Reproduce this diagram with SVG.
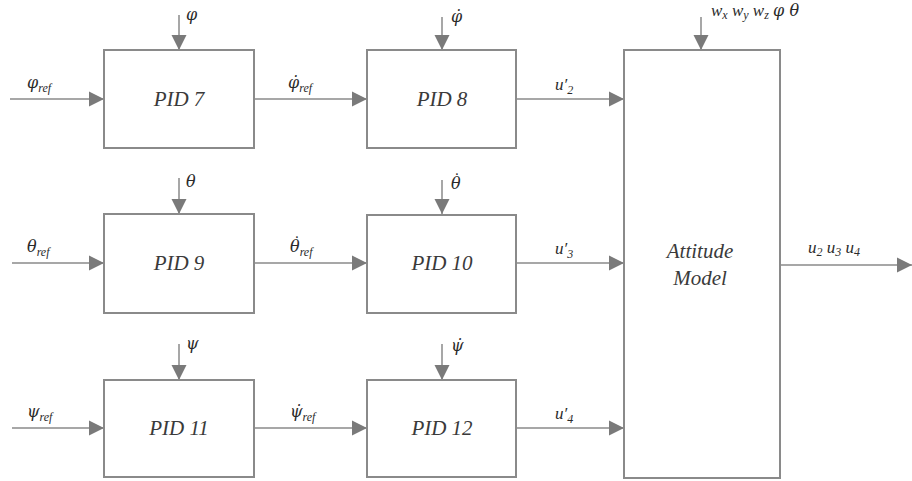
<svg xmlns="http://www.w3.org/2000/svg" width="912" height="481" viewBox="0 0 912 481">
  <style>
    .box { fill: #ffffff; stroke: #8a8a8a; stroke-width: 2; }
    .wire { stroke: #8a8a8a; stroke-width: 1.5; fill: none; marker-end: url(#head); }
    .name { font-family: "Liberation Serif", "DejaVu Serif", serif; font-style: italic; font-size: 21px; fill: #3a3a3a; text-anchor: middle; }
    .sig { font-family: "Liberation Serif", "DejaVu Serif", serif; font-style: italic; font-size: 17px; fill: #2a2a2a; }
    .gk { font-family: "DejaVu Serif", serif; font-style: italic; font-size: 16px; }
    .sub { font-size: 12px; }
  </style>
  <defs>
    <marker id="head" markerUnits="userSpaceOnUse" markerWidth="16" markerHeight="16" viewBox="0 0 16 16" refX="15" refY="8" orient="auto">
      <path d="M0,0.5 L15,8 L0,15.5 Z" fill="#7a7a7a"/>
    </marker>
  </defs>

  <!-- connectors -->
  <g id="connectors">
    <!-- reference inputs -->
    <line class="wire" x1="10" y1="99" x2="104" y2="99"/>
    <line class="wire" x1="12" y1="263" x2="104" y2="263"/>
    <line class="wire" x1="12" y1="428" x2="104" y2="428"/>
    <!-- feedback from above, angle loops -->
    <line class="wire" x1="179" y1="15" x2="179" y2="50"/>
    <line class="wire" x1="179" y1="178" x2="179" y2="214"/>
    <line class="wire" x1="179" y1="344" x2="179" y2="380"/>
    <!-- feedback from above, rate loops -->
    <line class="wire" x1="442" y1="17" x2="442" y2="50"/>
    <line class="wire" x1="442" y1="180" x2="442" y2="214"/>
    <line class="wire" x1="442" y1="344" x2="442" y2="380"/>
    <!-- angle controller to rate controller -->
    <line class="wire" x1="254" y1="99" x2="367" y2="99"/>
    <line class="wire" x1="254" y1="263" x2="367" y2="263"/>
    <line class="wire" x1="254" y1="428" x2="367" y2="428"/>
    <!-- rate controller to attitude model -->
    <line class="wire" x1="516" y1="99" x2="624" y2="99"/>
    <line class="wire" x1="516" y1="263" x2="624" y2="263"/>
    <line class="wire" x1="516" y1="428" x2="624" y2="428"/>
    <!-- model state input and output -->
    <line class="wire" x1="701" y1="17" x2="701" y2="50"/>
    <line class="wire" x1="780" y1="265" x2="912" y2="265"/>
  </g>

  <!-- signal labels -->
  <g id="labels">
    <text class="sig" x="27" y="88"><tspan class="gk">φ</tspan><tspan class="sub" dy="4">ref</tspan></text>
    <text class="sig" x="27" y="252"><tspan class="gk">θ</tspan><tspan class="sub" dy="4">ref</tspan></text>
    <text class="sig" x="27" y="417"><tspan class="gk">ψ</tspan><tspan class="sub" dy="4">ref</tspan></text>

    <text class="sig" x="186" y="20"><tspan class="gk">φ</tspan></text>
    <text class="sig" x="186" y="187"><tspan class="gk">θ</tspan></text>
    <text class="sig" x="186" y="349"><tspan class="gk">ψ</tspan></text>

    <text class="sig" x="451" y="22"><tspan class="gk">φ̇</tspan></text>
    <text class="sig" x="451" y="189"><tspan class="gk">θ</tspan><tspan x="453" y="184">˙</tspan></text>
    <text class="sig" x="451" y="351"><tspan class="gk">ψ̇</tspan></text>

    <text class="sig" x="288" y="88"><tspan class="gk">φ̇</tspan><tspan class="sub" dy="4">ref</tspan></text>
    <text class="sig" x="290" y="252"><tspan class="gk">θ</tspan><tspan class="sub" dy="4">ref</tspan><tspan x="293" y="247">˙</tspan></text>
    <text class="sig" x="290" y="417"><tspan class="gk">ψ̇</tspan><tspan class="sub" dy="4">ref</tspan></text>

    <text class="sig" x="555" y="90">u′<tspan class="sub" dy="4">2</tspan></text>
    <text class="sig" x="555" y="254">u′<tspan class="sub" dy="4">3</tspan></text>
    <text class="sig" x="555" y="419">u′<tspan class="sub" dy="4">4</tspan></text>

    <text class="sig" x="711" y="16">w<tspan class="sub" dy="3">x</tspan><tspan dy="-3"> w</tspan><tspan class="sub" dy="3">y</tspan><tspan dy="-3"> w</tspan><tspan class="sub" dy="3">z</tspan><tspan dy="-3"> </tspan><tspan class="gk">φ θ</tspan></text>
    <text class="sig" x="808" y="253">u<tspan class="sub" dy="3">2</tspan><tspan dy="-3"> u</tspan><tspan class="sub" dy="3">3</tspan><tspan dy="-3"> u</tspan><tspan class="sub" dy="3">4</tspan></text>
  </g>

  <!-- controllers -->
  <g id="pid7">
    <rect class="box" x="104" y="50" width="150" height="98"/>
    <text class="name" x="179" y="106">PID 7</text>
  </g>
  <g id="pid8">
    <rect class="box" x="367" y="50" width="149" height="98"/>
    <text class="name" x="442" y="106">PID 8</text>
  </g>
  <g id="pid9">
    <rect class="box" x="104" y="214" width="150" height="99"/>
    <text class="name" x="179" y="270">PID 9</text>
  </g>
  <g id="pid10">
    <rect class="box" x="367" y="215" width="149" height="98"/>
    <text class="name" x="442" y="270">PID 10</text>
  </g>
  <g id="pid11">
    <rect class="box" x="104" y="380" width="150" height="97"/>
    <text class="name" x="179" y="435">PID 11</text>
  </g>
  <g id="pid12">
    <rect class="box" x="367" y="380" width="149" height="97"/>
    <text class="name" x="442" y="435">PID 12</text>
  </g>

  <!-- plant -->
  <g id="attitude-model">
    <rect class="box" x="624" y="50" width="156" height="428"/>
    <text class="name" x="700" y="258">Attitude</text>
    <text class="name" x="700" y="285">Model</text>
  </g>
</svg>
